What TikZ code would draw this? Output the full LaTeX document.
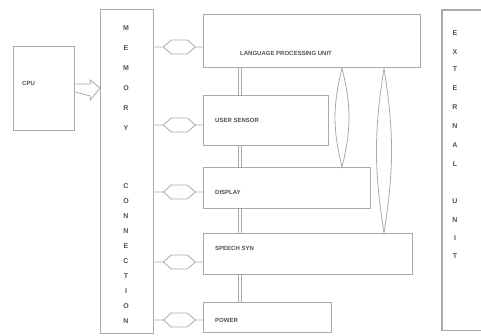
\documentclass[tikz,border=0pt]{standalone}
\usepackage{fontspec}
\setmainfont{Liberation Sans}
\usetikzlibrary{calc}
\definecolor{boxgray}{HTML}{AAAAAA}
\definecolor{conngray}{HTML}{707070}
\definecolor{txtgray}{HTML}{505050}
\begin{document}
\begin{tikzpicture}[x=1pt,y=-1pt,
  box/.style={draw=boxgray, line width=1.3pt, inner sep=0pt, anchor=north west},
  conn/.style={draw=conngray, line width=1.8pt},
  thin/.style={draw=boxgray, line width=0.8pt},
  lbl/.style={font=\fontsize{6}{7}\selectfont\bfseries, text=txtgray, anchor=west, inner sep=0pt},
  letter/.style={font=\fontsize{7}{8}\selectfont\bfseries, text=txtgray, inner sep=0pt}]
\useasboundingbox (0,0) rectangle (481,336);
% boxes
\node[box, minimum width=61, minimum height=84] (cpu) at (13,46) {};
\node[box, minimum width=53, minimum height=324] (mem) at (100,9) {};
\node[draw=none, inner sep=0pt, anchor=north west, minimum width=45, minimum height=320] (ext) at (442,10) {};
\draw[boxgray, line width=1.3pt] (ext.north east) -- (ext.north west) -- (ext.south west) -- (ext.south east);
\node[box, minimum width=217, minimum height=53] (b1) at (203,14) {};
\node[box, minimum width=125, minimum height=50] (b2) at (203,95) {};
\node[box, minimum width=167, minimum height=41] (b3) at (203,167) {};
\node[box, minimum width=209, minimum height=41] (b4) at (203,233) {};
\node[box, minimum width=128, minimum height=30] (b5) at (203,302) {};
% labels
\node[lbl] (tcpu) at (22,83) {CPU};
\node[lbl] (t1) at (240,53) {LANGUAGE PROCESSING UNIT};
\node[lbl] (t2) at (215,120) {USER SENSOR};
\node[lbl] (t3) at (215,192) {DISPLAY};
\node[lbl] (t4) at (215,248) {SPEECH SYN};
\node[lbl] (t5) at (215,320) {POWER};
% column letters
\foreach \ch [count=\i] in {M,E,M,O,R,Y}
  \node[letter] (ma\i) at (126,{8+20*\i}) {\ch};
\foreach \ch [count=\i] in {C,O,N,N,E,C,T,I,O,N}
  \node[letter] (mb\i) at (126,{171+15*\i}) {\ch};
\foreach \ch/\yy [count=\i] in {E/33,X/52,T/69,E/88,R/107,N/126,A/145,L/164}
  \node[letter] (ea\i) at (455,\yy) {\ch};
\foreach \ch/\yy [count=\i] in {U/201,N/220,I/238,T/256}
  \node[letter] (eb\i) at (455,\yy) {\ch};
% CPU hollow arrow
\coordinate (ca) at ($(cpu.north east)+(0,42)$);
\draw[thin] ($(ca)+(0,-4)$) -- ++(15,0) -- ++(0,-4) -- ($(ca -| mem.west)$) -- ($(ca)+(15,12)$) -- ++(0,-4) -- ($(ca)+(0,4)$);
% external connections
\foreach \b/\dy in {b1/20,b2/22,b3/15,b4/19,b5/8}
  \draw[conn] ($(\b.north east)+(0,\dy)$) -- ($(\b.north east)+(0,\dy)$ -| ext.west);
% left hollow double arrows
\foreach \b/\dy in {b1/33,b2/30,b3/25,b4/29,b5/18}{
  \coordinate (la) at ($(\b.north west)+(0,\dy)$);
  \draw[thin] (la -| mem.east) -- ++(9,0) -- ++(8,-7) -- ++(16,0) -- ++(8,7) -- (la);
  \draw[thin] (la -| mem.east) ++(9,0) -- ++(8,7) -- ++(16,0) -- ++(8,-7);
}
% vertical double connectors
\coordinate (vx) at (240,0);
\foreach \a/\b in {b1/b2,b2/b3,b3/b4,b4/b5}{
  \draw[thin] ($(\a.south -| vx)+(-1.8,0)$) -- ($(\b.north -| vx)+(-1.8,0)$);
  \draw[thin] ($(\a.south -| vx)+(1.8,0)$) -- ($(\b.north -| vx)+(1.8,0)$);
}
% lens connectors
\coordinate (lx1) at (342,0);
\coordinate (lx2) at (384,0);
\draw[thin] (b1.south -| lx1) to[bend left=14] (b3.north -| lx1) to[bend left=14] (b1.south -| lx1);
\draw[thin] (b1.south -| lx2) to[bend left=9] (b4.north -| lx2) to[bend left=9] (b1.south -| lx2);
\end{tikzpicture}
\end{document}
